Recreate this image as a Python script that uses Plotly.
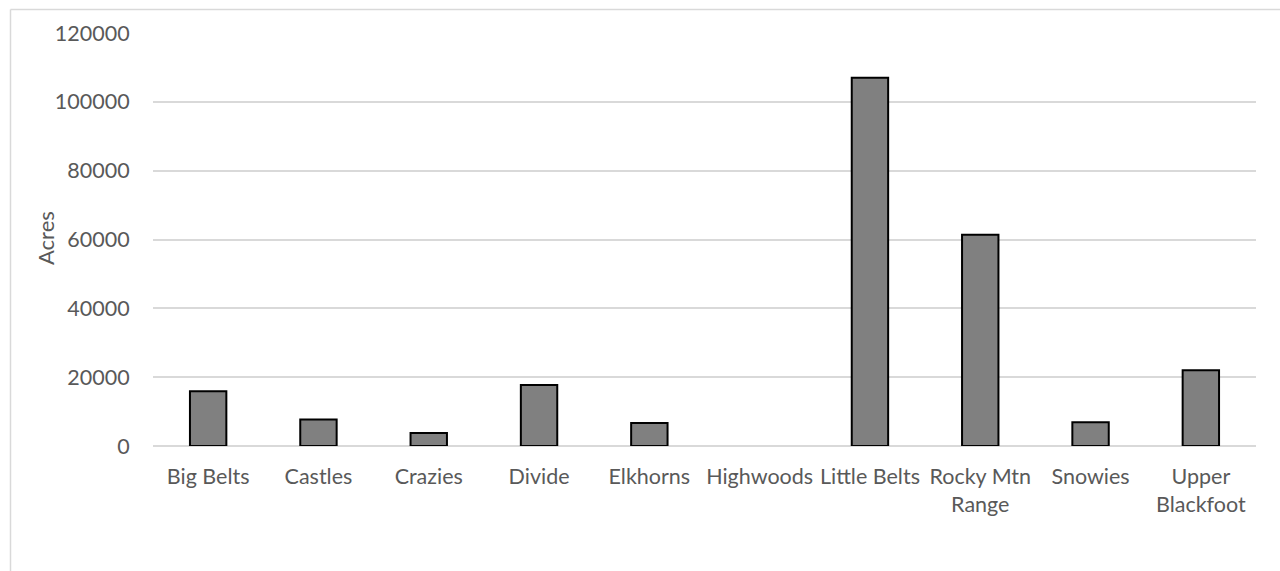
import plotly.graph_objects as go

# Acres by mountain range
ranges = ["Big Belts", "Castles", "Crazies", "Divide", "Elkhorns", "Highwoods",
          "Little Belts", "Rocky Mtn<br>Range", "Snowies", "Upper<br>Blackfoot"]
acres = [15900, 7700, 3800, 17700, 6700, 0, 107000, 61400, 6900, 22000]
y_ticks = [0, 20000, 40000, 60000, 80000, 100000, 120000]

W, H = 1280, 571
L, R, T, B = 153, 24, 33, 125
pw, ph = W - L - R, H - T - B

text_color = "#595959"
grid_color = "#d9d9d9"
font = dict(family="Lato, sans-serif", size=21.5, color=text_color)

# empty categories get no outline, so nothing is drawn for them
outline_widths = [2 if v > 0 else 0 for v in acres]

fig = go.Figure(
    go.Bar(
        x=ranges,
        y=acres,
        width=0.33,
        marker=dict(color="#808080", line=dict(color="#000000", width=outline_widths)),
    )
)

# outer chart frame (top and left edges are visible)
fx = (10.5 - L) / pw
fy = 1 + (T - 9.5) / ph
fig.add_shape(type="line", xref="paper", yref="paper", x0=fx, x1=fx, y0=-1, y1=fy,
              line=dict(color=grid_color, width=1.5), layer="below")
fig.add_shape(type="line", xref="paper", yref="paper", x0=fx, x1=1.5, y0=fy, y1=fy,
              line=dict(color=grid_color, width=1.5), layer="below")

# y-axis title placed as a rotated annotation
fig.add_annotation(
    text="Acres",
    xref="paper", yref="paper",
    x=(45 - L) / pw, y=1 - (238 - T) / ph,
    xanchor="center", yanchor="middle",
    textangle=-90,
    showarrow=False,
    font=dict(family="Lato, sans-serif", size=22, color=text_color),
)

fig.update_layout(
    width=W,
    height=H,
    margin=dict(l=L, r=R, t=T, b=B, pad=0),
    paper_bgcolor="white",
    plot_bgcolor="white",
    font=font,
    showlegend=False,
)
fig.update_xaxes(
    showgrid=False,
    showline=False,
    zeroline=False,
    ticks="outside",
    ticklen=11,
    tickcolor="rgba(0,0,0,0)",
    tickfont=font,
)
fig.update_yaxes(
    range=[0, 120000],
    tickvals=y_ticks,
    ticktext=[str(v) for v in y_ticks],
    showgrid=True,
    gridcolor=grid_color,
    gridwidth=1.5,
    zeroline=True,
    zerolinecolor=grid_color,
    zerolinewidth=1.5,
    showline=False,
    ticks="outside",
    ticklen=18,
    tickcolor="rgba(0,0,0,0)",
    tickfont=font,
)

fig.write_html("out.html")
